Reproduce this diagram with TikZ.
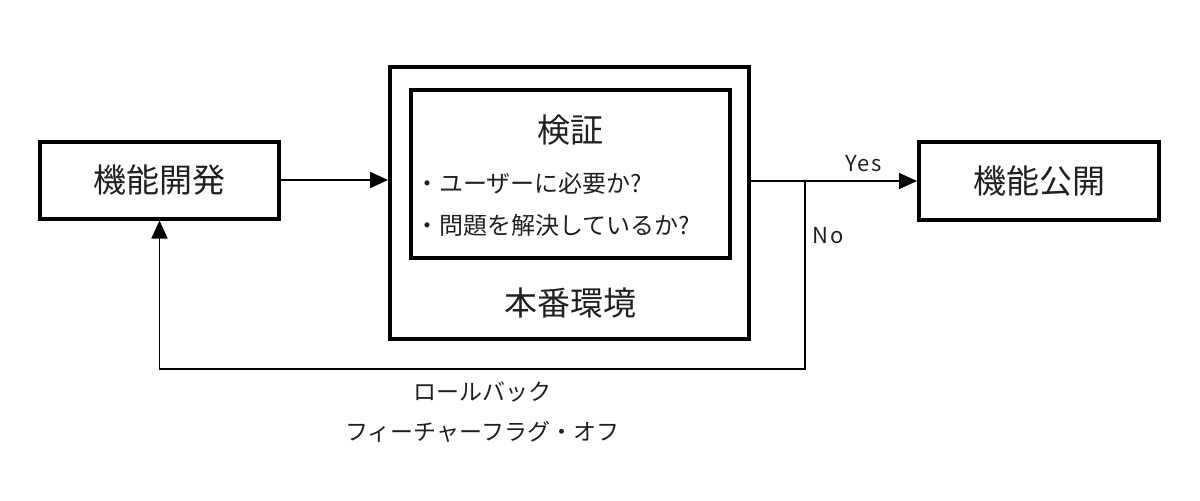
\documentclass[tikz,border=0pt]{standalone}
\usepackage{fontspec}
\setmainfont{Noto Sans CJK JP}
\newfontfamily\tagfont[LetterSpace=8]{Noto Sans CJK JP}
\usetikzlibrary{arrows.meta,positioning,calc}
\definecolor{inkgray}{RGB}{35,31,32}

\begin{document}
\begin{tikzpicture}[
    x=0.5pt, y=-0.5pt,
    box/.style={rectangle, draw=black, line width=2pt, text=inkgray, font=\fontsize{16.5}{20}\selectfont},
    head/.style={text=inkgray, font=\fontsize{16.5}{20}\selectfont},
    item/.style={anchor=west, inner sep=0pt, text=inkgray, font=\fontsize{12}{14}\selectfont},
    note/.style={text=inkgray, font=\fontsize{11.5}{20}\selectfont, align=center},
    tag/.style={text=inkgray, font=\tagfont\fontsize{11}{12}\selectfont},
    arrow/.style={-{Triangle[length=9pt, width=8pt]}, line width=0.9pt}
]

% Frame
\useasboundingbox (0,0) rectangle (1200,500);

% Level 1: Boxes
\node[box, minimum width=119.5pt, minimum height=38.5pt] (dev) at (159.5,180) {機能開発};
\node[box, minimum width=179.5pt, minimum height=136pt] (env) at (569.5,203) {};
\node[box, minimum width=159.5pt, minimum height=84pt] (check) at (570.5,174) {};
\node[box, minimum width=120pt, minimum height=39pt] (pub) at (1039,181) {機能公開};

% Level 2: Texts inside the environment
\node[head] (checkttl) at (570,130) {検証};
\node[item] (q1) at (415,183) {・ユーザーに必要か?};
\node[item] (q2) at (415,225) {・問題を解決しているか?};
\node[head] (envttl) at (570,303) {本番環境};

% Connectors
\coordinate (split) at ($(env.east |- pub.west)+(54,0)$);
\coordinate (back) at (split |- 0,369);
\draw[arrow] (dev.east) -- (dev.east -| env.west);
\draw[arrow] (env.east |- pub.west) -- node[tag, above, pos=0.68, yshift=1pt] (yes) {Yes} (pub.west);
\draw[arrow] (split) -- node[tag, right, pos=0.29] (no) {No} (back)
    -| node[note, below, pos=0.25, yshift=-2.5pt] (undo) {ロールバック\\フィーチャーフラグ・オフ} (dev.south);

\end{tikzpicture}
\end{document}
